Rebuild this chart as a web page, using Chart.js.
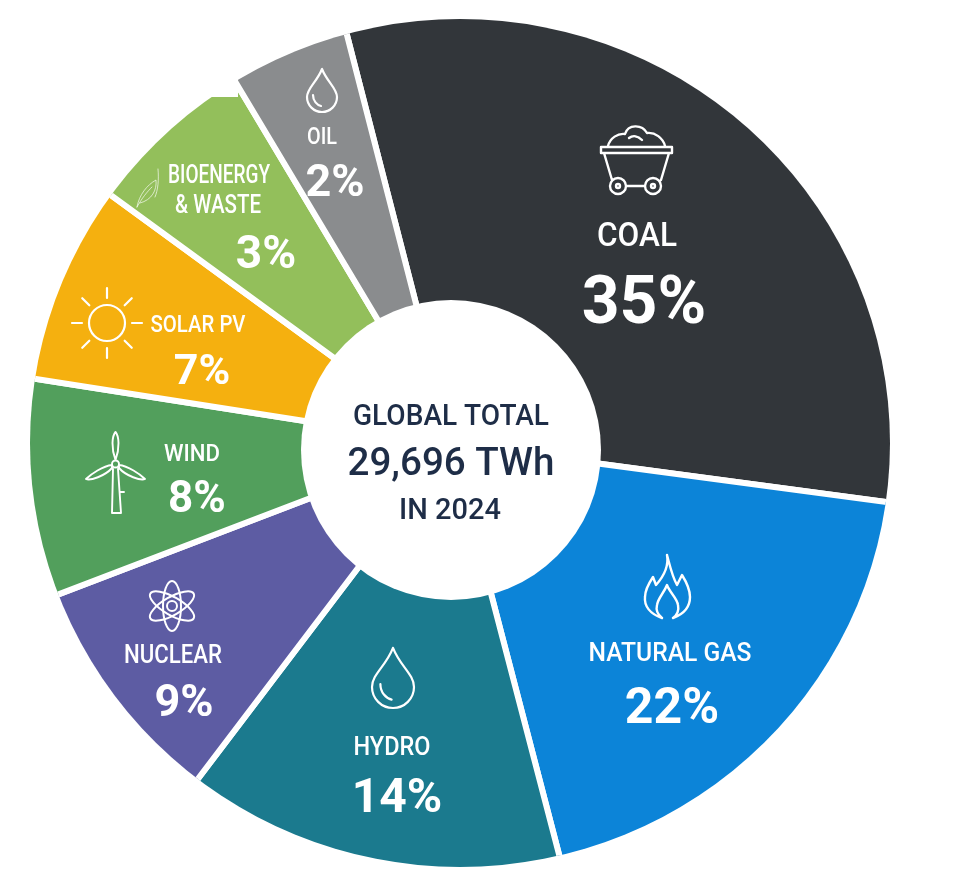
<!DOCTYPE html>
<html>
<head>
<meta charset="utf-8">
<title>Global electricity generation 2024</title>
<script src="https://cdn.jsdelivr.net/npm/chart.js@4"></script>
<style>
    html, body { margin: 0; height: 100%; background: #fff; overflow: hidden; }
    #mix-chart { position: absolute; left: -48px; top: -56px; }
</style>
</head>
<body>
<canvas id="mix-chart" width="1000" height="1000"></canvas>
<script>
const categories = ['COAL', 'NATURAL GAS', 'HYDRO', 'NUCLEAR', 'WIND', 'SOLAR PV', 'BIOENERGY & WASTE', 'OIL'];
// what the slices print
const printedPercents = [35, 22, 14, 9, 8, 7, 3, 2];
// the slices in the picture are not drawn to the printed numbers, so this is the share each one really covers
const drawnShares = [31.11, 18.83, 14.39, 8.86, 8.28, 7.56, 6.39, 4.58];
const sliceColors = ['#32363a', '#0c84d8', '#1b7a8e', '#5d5ca3', '#529f5c', '#f5b00f', '#93bf5b', '#8a8c8e'];
const centerLines = ['GLOBAL TOTAL', '29,696 TWh', 'IN 2024'];

// canvas is pushed off the page so the pie apex lands at page (452, 444)
const pageX = 48;
const pageY = 56;
const fontName = 'Roboto, sans-serif';

// [label x, baseline, size, max width, percent x, baseline, size]
const labelLayout = [
    [637, 246, 33, 80, 644, 323, 66],
    [670, 661, 26, 163, 672, 723, 50],
    [392, 755, 26, 77, 397, 812, 48],
    [173, 663, 25, 98, 184, 716, 45],
    [192, 461, 24, 56, 197, 512, 44],
    [198, 332, 24, 95, 202, 384, 43],
    [219, 183, 25, 102, 266, 268, 46],
    [322, 144, 24, 30, 335, 196, 45]
];

const drop = 'M0 -28C-5 -15 -15 -9 -15 0A15 15 0 0 0 15 0C15 -9 5 -15 0 -28ZM-9 -2C-9 4 -5 8 -1 9';
const iconPaths = [
    // cart
    'M601 147H672V153H601ZM604 153L612 180M669 153L661 180M626 186H645' +
    'M608 146C610 138 618 133 625 134C628 124 642 124 647 133C655 132 663 138 665 146M629 138C633 135 638 136 642 140' +
    'M626 186A8 8 0 1 1 610 186A8 8 0 1 1 626 186ZM661 186A8 8 0 1 1 645 186A8 8 0 1 1 661 186ZM620 186A2 2 0 1 1 616 186A2 2 0 1 1 620 186ZM655 186A2 2 0 1 1 651 186A2 2 0 1 1 655 186Z',
    // flame
    'M662 618C650 614 644 606 645 597C645 590 649 583 653 577L656 585C664 576 669 566 667 555C670 566 672 576 677 585L682 575C687 583 690 590 690 597C690 607 684 614 673 618' +
    'M662 618C657 614 656 609 657 605C658 598 664 593 667 585C670 593 677 598 678 605C679 610 677 615 673 618'
];

const strokeIcon = (ctx, path, width = 2.4) => {
    ctx.lineWidth = width;
    ctx.stroke(new Path2D(path));
};

const drawDrop = (ctx, x, y, scale) => {
    ctx.save();
    ctx.translate(x, y);
    ctx.scale(scale, scale);
    strokeIcon(ctx, drop, 2.2 / scale);
    ctx.restore();
};

const drawSun = (ctx, x, y) => {
    ctx.beginPath();
    ctx.arc(x, y, 18, 0, Math.PI * 2);
    for (let i = 0; i < 8; i++) {
        const a = i * Math.PI / 4;
        ctx.moveTo(x + Math.cos(a) * 25, y + Math.sin(a) * 25);
        ctx.lineTo(x + Math.cos(a) * 35, y + Math.sin(a) * 35);
    }
    ctx.lineWidth = 2.2;
    ctx.stroke();
};

const drawAtom = (ctx, x, y) => {
    ctx.lineWidth = 2;
    [90, 30, -30].forEach(deg => {
        ctx.beginPath();
        ctx.ellipse(x, y, 25, 9, deg * Math.PI / 180, 0, Math.PI * 2);
        ctx.stroke();
    });
    ctx.beginPath();
    ctx.arc(x, y, 5, 0, Math.PI * 2);
    ctx.stroke();
};

const drawTurbine = (ctx) => {
    strokeIcon(ctx,
        'M119 464A3.5 3.5 0 1 1 112 464A3.5 3.5 0 1 1 119 464Z' +
        'M115.5 460C111 448 112 436 115.5 432C119 436 120 448 115.5 460Z' +
        'M112 465C103 466 91 474 86 479C90 481 105 476 112 468Z' +
        'M119 465C128 466 140 474 145 479C141 481 126 476 119 468Z' +
        'M113 469L112 513H121L118 469M120 492H124', 1.9);
};

const drawLeaf = (ctx) => {
    ctx.save();
    ctx.globalAlpha = 0.65;
    strokeIcon(ctx, 'M137 207C139 195 147 185 156 180C157 190 152 200 140 203M137 207C142 198 147 192 152 187M158 169C159 180 158 190 155 197', 1);
    ctx.restore();
};

const drawIcons = (ctx) => {
    ctx.strokeStyle = '#fff';
    ctx.lineJoin = 'round';
    ctx.lineCap = 'round';
    iconPaths.forEach(p => strokeIcon(ctx, p));
    drawDrop(ctx, 322, 97, 1);
    drawDrop(ctx, 393, 687, 1.4);
    drawSun(ctx, 107, 323);
    drawAtom(ctx, 172, 606);
    drawTurbine(ctx);
    drawLeaf(ctx);
};

const drawText = (ctx, text, x, y, size, weight, color, maxWidth) => {
    ctx.font = `${weight} ${size}px ${fontName}`;
    ctx.fillStyle = color;
    ctx.fillText(text, x, y, maxWidth);
};

const drawLabels = (ctx) => {
    ctx.textAlign = 'center';
    ctx.textBaseline = 'alphabetic';
    categories.forEach((name, i) => {
        const [lx, ly, ls, lw, px, py, ps] = labelLayout[i];
        if (name.includes('&')) {
            const split = name.indexOf('&');
            drawText(ctx, name.slice(0, split).trim(), lx, ly, ls, 500, '#fff', lw);
            drawText(ctx, name.slice(split), lx - 1, ly + 30, ls, 500, '#fff', 86);
        } else {
            drawText(ctx, name, lx, ly, ls, 500, '#fff', lw);
        }
        drawText(ctx, printedPercents[i] + '%', px, py, ps, 700, '#fff');
    });
    drawText(ctx, centerLines[0], 451, 425, 30, 500, '#1e2d47', 196);
    drawText(ctx, centerLines[1], 451, 475, 39, 500, '#1e2d47', 207);
    drawText(ctx, centerLines[2], 450, 519, 29, 500, '#1e2d47', 103);
};

// outline of the pie is a slightly squashed circle, not centred on the apex
const outlinePlugin = {
    id: 'outline',
    beforeDatasetsDraw(chart) {
        const ctx = chart.ctx;
        ctx.save();
        ctx.beginPath();
        ctx.ellipse(460 + pageX, 443 + pageY, 430, 424, 0, 0, Math.PI * 2);
        ctx.clip();
    },
    afterDatasetsDraw(chart) {
        const ctx = chart.ctx;
        ctx.restore();
        ctx.save();
        ctx.translate(pageX, pageY);
        // flat cut on top of the bioenergy slice
        ctx.fillStyle = '#fff';
        ctx.fillRect(195, 70, 43, 27);
        // hole
        ctx.beginPath();
        ctx.arc(451, 450, 150, 0, Math.PI * 2);
        ctx.fill();
        drawIcons(ctx);
        drawLabels(ctx);
        ctx.restore();
    }
};

new Chart(document.getElementById('mix-chart'), {
    type: 'doughnut',
    data: {
        labels: categories,
        datasets: [{
            data: drawnShares,
            backgroundColor: sliceColors,
            borderColor: '#fff',
            borderWidth: 6
        }]
    },
    options: {
        responsive: false,
        animation: false,
        devicePixelRatio: 1,
        rotation: -14.4,
        radius: 460,
        cutout: 100,
        plugins: {
            legend: { display: false },
            tooltip: { enabled: false }
        }
    },
    plugins: [outlinePlugin]
});
</script>
</body>
</html>
